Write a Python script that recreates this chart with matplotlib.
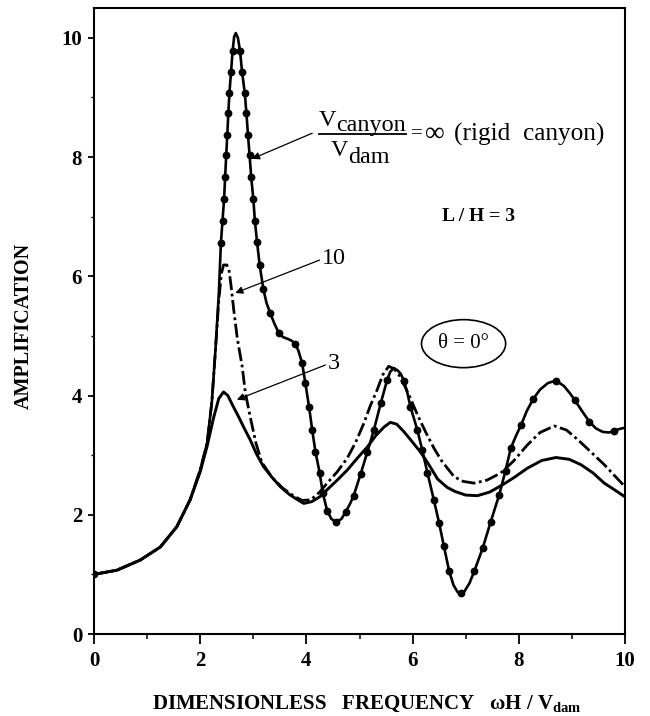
import matplotlib
matplotlib.use("Agg")
import matplotlib.pyplot as plt
from matplotlib.patches import Ellipse
from matplotlib.ticker import MultipleLocator

plt.rcParams['font.family'] = ['Liberation Serif', 'DejaVu Serif']
plt.rcParams['mathtext.fontset'] = 'custom'
plt.rcParams['mathtext.rm'] = 'Liberation Serif'
plt.rcParams['mathtext.it'] = 'Liberation Serif:italic'
plt.rcParams['mathtext.bf'] = 'Liberation Serif:bold'

# ---------------- data ----------------
rigid_x = [0, 0.43, 0.87, 1.25, 1.56, 1.81, 2.0, 2.13, 2.22, 2.29, 2.35, 2.39, 2.42, 2.45, 2.47,
           2.49, 2.51, 2.53, 2.55, 2.58, 2.61, 2.64, 2.67, 2.71, 2.75, 2.79, 2.84, 2.87, 2.90,
           2.93, 2.96, 3.00, 3.03, 3.07, 3.12, 3.19, 3.25, 3.32, 3.40, 3.48, 3.56, 3.65, 3.72,
           3.79, 3.85, 3.92, 3.98, 4.05, 4.11, 4.17, 4.25, 4.31, 4.39, 4.47, 4.56, 4.66, 4.74,
           4.82, 4.89, 5.02, 5.15, 5.27, 5.40, 5.52, 5.58, 5.65, 5.72, 5.78, 5.84, 5.90, 5.96,
           6.09, 6.18, 6.28, 6.40, 6.50, 6.59, 6.69, 6.77, 6.85, 6.91, 6.98, 7.07, 7.16, 7.32,
           7.47, 7.63, 7.75, 7.85, 7.95, 8.04, 8.15, 8.27, 8.40, 8.55, 8.70, 8.85, 8.96, 9.05,
           9.19, 9.33, 9.45, 9.58, 9.70, 9.80, 9.90, 10.0]
rigid_y = [1.0, 1.07, 1.24, 1.46, 1.80, 2.25, 2.75, 3.20, 3.90, 4.80, 5.70, 6.56, 6.93, 7.30, 7.67,
           8.03, 8.37, 8.74, 9.07, 9.42, 9.78, 10.02, 10.08, 10.00, 9.78, 9.42, 9.07, 8.74, 8.37,
           8.03, 7.67, 7.30, 6.93, 6.58, 6.19, 5.78, 5.55, 5.38, 5.20, 5.05, 4.98, 4.95, 4.92,
           4.87, 4.75, 4.54, 4.21, 3.81, 3.42, 3.06, 2.70, 2.36, 2.07, 1.93, 1.88, 1.93, 2.05,
           2.18, 2.32, 2.68, 3.06, 3.42, 3.87, 4.26, 4.40, 4.46, 4.42, 4.36, 4.24, 4.05, 3.81,
           3.42, 3.09, 2.70, 2.25, 1.86, 1.47, 1.05, 0.82, 0.70, 0.68, 0.72, 0.85, 1.05, 1.44,
           1.88, 2.33, 2.74, 3.12, 3.33, 3.50, 3.74, 3.94, 4.10, 4.21, 4.25, 4.16, 4.04, 3.93,
           3.74, 3.56, 3.45, 3.39, 3.38, 3.41, 3.44, 3.46]

rigid_dot_x = [0, 2.39, 2.42, 2.45, 2.47, 2.49, 2.51, 2.53, 2.55, 2.58, 2.61,
               2.75, 2.79, 2.84, 2.87, 2.90, 2.93, 2.96, 3.00, 3.03, 3.07, 3.12, 3.19, 3.32, 3.48,
               3.79, 3.92, 3.98, 4.05, 4.11, 4.17, 4.25, 4.31, 4.39, 4.56, 4.74, 4.89, 5.02, 5.15,
               5.27, 5.40, 5.52, 5.84, 5.96, 6.09, 6.18, 6.28, 6.40, 6.50, 6.59, 6.69, 6.91, 7.16,
               7.32, 7.47, 7.63, 7.75, 7.85, 8.04, 8.27, 8.70, 9.05, 9.33, 9.80]
rigid_dot_y = [1.0, 6.56, 6.93, 7.30, 7.67, 8.03, 8.37, 8.74, 9.07, 9.42, 9.78,
               9.78, 9.42, 9.07, 8.74, 8.37, 8.03, 7.67, 7.30, 6.93, 6.58, 6.19, 5.78, 5.38, 5.05,
               4.87, 4.54, 4.21, 3.81, 3.42, 3.06, 2.70, 2.36, 2.07, 1.88, 2.05, 2.32, 2.68, 3.06,
               3.42, 3.87, 4.26, 4.24, 3.81, 3.42, 3.09, 2.70, 2.25, 1.86, 1.47, 1.05, 0.68, 1.05,
               1.44, 1.88, 2.33, 2.74, 3.12, 3.50, 3.94, 4.25, 3.93, 3.56, 3.41]

r10_x = [0, 0.43, 0.87, 1.25, 1.56, 1.81, 2.0, 2.13, 2.22, 2.29, 2.35, 2.40, 2.44, 2.50, 2.54,
         2.58, 2.63, 2.70, 2.79, 2.85, 2.94, 3.05, 3.16, 3.35, 3.55, 3.75, 3.92, 4.08, 4.25,
         4.39, 4.58, 4.77, 4.93, 5.08, 5.20, 5.33, 5.44, 5.55, 5.65, 5.74, 5.84, 5.96, 6.09,
         6.25, 6.40, 6.55, 6.78, 6.95, 7.16, 7.40, 7.66, 7.90, 8.16, 8.40, 8.67, 8.90, 9.11,
         9.35, 9.61, 9.80, 10.0]
r10_y = [1.0, 1.07, 1.24, 1.46, 1.80, 2.25, 2.75, 3.20, 3.90, 4.80, 5.60, 6.05, 6.19, 6.19, 6.12,
         5.85, 5.45, 4.95, 4.49, 4.05, 3.65, 3.20, 2.88, 2.63, 2.45, 2.32, 2.24, 2.25, 2.38,
         2.53, 2.72, 2.95, 3.22, 3.53, 3.82, 4.09, 4.35, 4.49, 4.45, 4.35, 4.18, 3.95, 3.68,
         3.38, 3.12, 2.90, 2.64, 2.56, 2.53, 2.58, 2.70, 2.90, 3.17, 3.38, 3.49, 3.42, 3.26,
         3.06, 2.84, 2.66, 2.47]

r3_x = [0, 0.43, 0.87, 1.25, 1.56, 1.81, 2.0, 2.13, 2.25, 2.35, 2.44, 2.52, 2.62, 2.72, 2.83,
        2.94, 3.06, 3.19, 3.35, 3.51, 3.68, 3.82, 3.95, 4.10, 4.25, 4.39, 4.58, 4.77, 4.96,
        5.15, 5.30, 5.46, 5.58, 5.70, 5.83, 5.96, 6.15, 6.30, 6.47, 6.65, 6.80, 7.00, 7.22,
        7.45, 7.69, 7.92, 8.16, 8.43, 8.70, 8.95, 9.17, 9.40, 9.61, 9.80, 10.0]
r3_y = [1.0, 1.07, 1.24, 1.46, 1.80, 2.25, 2.72, 3.15, 3.62, 3.95, 4.06, 4.00, 3.82, 3.65, 3.45,
        3.26, 3.02, 2.81, 2.63, 2.47, 2.34, 2.26, 2.19, 2.22, 2.30, 2.42, 2.58, 2.75, 2.95,
        3.14, 3.32, 3.47, 3.55, 3.52, 3.40, 3.26, 3.05, 2.85, 2.60, 2.46, 2.39, 2.33, 2.32,
        2.38, 2.50, 2.63, 2.78, 2.91, 2.96, 2.93, 2.84, 2.70, 2.53, 2.42, 2.30]

x_ticks = [0, 2, 4, 6, 8, 10]
y_ticks = [0, 2, 4, 6, 8, 10]

# ---------------- figure ----------------
W, H = 650, 716
fig = plt.figure(figsize=(W / 100, H / 100), dpi=100)
ax = fig.add_axes([94 / W, 1 - 634 / H, (625 - 94) / W, (634 - 8) / H])

ax.plot(r3_x, r3_y, color='black', lw=2.1, solid_capstyle='round', zorder=3)
ax.plot(r10_x, r10_y, color='black', lw=2.0, linestyle=(0, (5, 1.3, 1.0, 1.3)), zorder=3)
ax.plot(rigid_x, rigid_y, color='black', lw=1.9, zorder=4)
ax.plot(rigid_dot_x, rigid_dot_y, linestyle='none', marker='o', ms=4.6,
        color='black', zorder=5)

ax.set_xlim(0, 10)
ax.set_ylim(0, 10.5)
ax.set_xticks(x_ticks)
ax.set_yticks(y_ticks)
ax.set_xticklabels([str(v) for v in x_ticks])
ax.set_yticklabels([str(v) for v in y_ticks])
ax.xaxis.set_minor_locator(MultipleLocator(1))
ax.yaxis.set_minor_locator(MultipleLocator(1))
ax.tick_params(axis='x', which='major', direction='out', length=7, width=1.3, pad=5,
               labelsize=15)
ax.tick_params(axis='x', which='minor', direction='out', length=3.6, width=1.1)
ax.tick_params(axis='y', which='major', direction='out', length=4.5, width=1.3, pad=4,
               labelsize=15)
ax.tick_params(axis='y', which='minor', direction='out', length=2.5, width=1.0)
for lab in ax.get_xticklabels() + ax.get_yticklabels():
    lab.set_fontweight('bold')
for sp in ax.spines.values():
    sp.set_linewidth(1.5)

# axis labels
fig.text(24 / W, 1 - 326 / H, 'AMPLIFICATION', rotation=90, ha='center', va='center',
         fontsize=14.5, fontweight='bold')
fig.text(367 / W, 1 - 704 / H,
         r'DIMENSIONLESS   FREQUENCY   ωH / V$_{\mathbf{dam}}$',
         ha='center', va='center', fontsize=15, fontweight='bold')

# ---------------- annotations ----------------
FS = 17.4
arrow = dict(arrowstyle='-|>', lw=0.9, color='black', mutation_scale=11,
             shrinkA=0, shrinkB=0)

v_num = ax.text(4.23, 8.52, 'V', fontsize=FS, ha='left', va='baseline')
c_num = ax.annotate('canyon', xy=(1, 0), xycoords=v_num, xytext=(0, -5),
                    textcoords='offset pixels', fontsize=FS, ha='left', va='bottom')
v_den = ax.text(4.45, 8.01, 'V', fontsize=FS, ha='left', va='baseline')
d_den = ax.annotate('dam', xy=(1, 0), xycoords=v_den, xytext=(0, -7),
                    textcoords='offset pixels', fontsize=FS, ha='left', va='bottom')
ax.text(5.97, 8.39, '=', fontsize=15, ha='left', va='center')
ax.text(6.24, 8.38, '∞', fontsize=20, ha='left', va='center')
ax.text(6.78, 8.27, '(rigid  canyon)', fontsize=18.2, ha='left', va='baseline')

ax.annotate('', xy=(2.975, 7.97), xytext=(4.11, 8.40), arrowprops=arrow)
ax.annotate('10', xy=(2.66, 5.72), xytext=(4.30, 6.29), fontsize=FS, ha='left', va='center',
            arrowprops=dict(arrow, relpos=(0, 0.5)))
ax.annotate('3', xy=(2.69, 3.93), xytext=(4.41, 4.53), fontsize=FS, ha='left', va='center',
            arrowprops=dict(arrow, relpos=(0, 0.5)))

ax.text(7.25, 7.0, 'L / H = 3', fontsize=14, fontweight='bold', ha='center', va='center')
ax.add_patch(Ellipse((6.96, 4.87), 1.585, 0.805, fill=False, lw=1.2, color='black'))
ax.text(6.96, 4.87, 'θ = 0°', fontsize=15, ha='center', va='center')

# underline (fraction bar) spanning the numerator
fig.canvas.draw()
bb1 = v_num.get_window_extent()
bb2 = c_num.get_window_extent()
inv = ax.transData.inverted()
x0 = inv.transform((bb1.x0, 0))[0]
x1 = inv.transform((bb2.x1, 0))[0]
ax.plot([x0, x1], [8.39, 8.39], color='black', lw=1.3, clip_on=False)

fig.savefig('out.png', dpi=100)
